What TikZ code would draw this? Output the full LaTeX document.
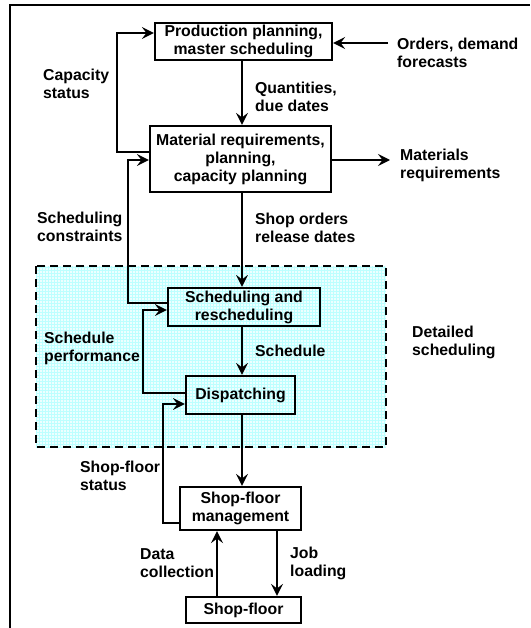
\documentclass[tikz,border=0pt]{standalone}
\usepackage{fontspec}
\setmainfont{Liberation Sans}
\usetikzlibrary{arrows.meta}
\definecolor{gridcyan}{rgb}{0.74,1,1}
\definecolor{fillcyan}{rgb}{0.93,1,1}
\begin{document}
\begin{tikzpicture}[x=1pt,y=-1pt,
  font=\fontsize{15.8}{18}\selectfont\bfseries,
  blk/.style={draw,line width=2.2pt,inner sep=0pt,align=center},
  lbl/.style={anchor=west,align=left,inner sep=0pt},
  con/.style={line width=2pt},
  arr/.style={con,-{Stealth[length=12pt,width=12pt,inset=4.5pt]}},
  frm/.style={line width=1.6pt}]
\useasboundingbox (0,0) rectangle (530,628);
% frame
\coordinate (fTL) at (10,5);
\coordinate (fTR) at (530,5);
\coordinate (fBL) at (10,628);
\draw[frm] (fBL) -- (fTL) -- (fTR);
% detailed scheduling region
\coordinate (dA) at (36,266);
\coordinate (dB) at (386,447);
\fill[fillcyan] (dA) rectangle (dB);
\begin{scope}
\clip (dA) rectangle (dB);
\draw[gridcyan,line width=0.9pt,step=3pt] (dA) grid (dB);
\end{scope}
\draw[line width=2pt,dash pattern=on 8pt off 5pt] (dA) rectangle (dB);
% blocks
\node[blk,minimum width=177pt,minimum height=37pt] (b1) at (243.5,41.5) {Production planning,\\master scheduling};
\node[blk,minimum width=181pt,minimum height=66pt] (b2) at (240.5,159) {Material requirements,\\planning,\\capacity planning};
\node[blk,minimum width=152pt,minimum height=38pt] (b3) at (244,307) {Scheduling and\\rescheduling};
\node[blk,minimum width=109pt,minimum height=38pt] (b4) at (240.5,395) {Dispatching};
\node[blk,minimum width=121pt,minimum height=43pt] (b5) at (240.5,508.5) {Shop-floor\\management};
\node[blk,minimum width=115pt,minimum height=26pt] (b6) at (243.5,610) {Shop-floor};
% labels
\node[lbl] (lcap) at (43,83.5) {Capacity\\status};
\node[lbl] (lqty) at (255,96.5) {Quantities,\\due dates};
\node[lbl] (lord) at (397,52.5) {Orders, demand\\forecasts};
\node[lbl] (lmat) at (400,165) {Materials\\requirements};
\node[lbl] (lcon) at (37,226.5) {Scheduling\\constraints};
\node[lbl] (lsho) at (255,228) {Shop orders\\release dates};
\node[lbl] (lper) at (44,348.5) {Schedule\\performance};
\node[lbl] (lsch) at (255,351) {Schedule};
\node[lbl] (ldet) at (412,342.5) {Detailed\\scheduling};
\node[lbl] (lsfs) at (80,475.5) {Shop-floor\\status};
\node[lbl] (ldat) at (140,563.5) {Data\\collection};
\node[lbl] (ljob) at (290,563.5) {Job\\loading};
% main vertical axis
\coordinate (ax) at (242,0);
\draw[arr] (b1.south -| ax) -- (b2.north -| ax);
\draw[arr] (b2.south -| ax) -- (b3.north -| ax);
\draw[arr] (b3.south -| ax) -- (b4.north -| ax);
\draw[arr] (b4.south -| ax) -- (b5.north -| ax);
% side inputs/outputs
\coordinate (ordS) at (388,43);
\draw[arr] (ordS) -- (ordS -| b1.east);
\coordinate (matE) at (390,160);
\draw[arr] (matE -| b2.east) -- (matE);
% capacity status loop
\coordinate (capB) at (117,152);
\coordinate (capT) at (117,33);
\draw[arr] (capB -| b2.west) -- (capB) -- (capT) -- (capT -| b1.west);
% scheduling constraints loop
\coordinate (conB) at (128,303);
\coordinate (conT) at (128,160);
\draw[arr] (conB -| b3.west) -- (conB) -- (conT) -- (conT -| b2.west);
% schedule performance loop
\coordinate (perB) at (143,393);
\coordinate (perT) at (143,310);
\draw[arr] (perB -| b4.west) -- (perB) -- (perT) -- (perT -| b3.west);
% shop-floor status loop
\coordinate (sfB) at (163,523);
\coordinate (sfT) at (163,404);
\draw[arr] (sfB -| b5.west) -- (sfB) -- (sfT) -- (sfT -| b4.west);
% data collection / job loading
\coordinate (dcx) at (217,0);
\coordinate (jlx) at (277,0);
\draw[arr] (b6.north -| dcx) -- (b5.south -| dcx);
\draw[arr] (b5.south -| jlx) -- (b6.north -| jlx);
\end{tikzpicture}
\end{document}
